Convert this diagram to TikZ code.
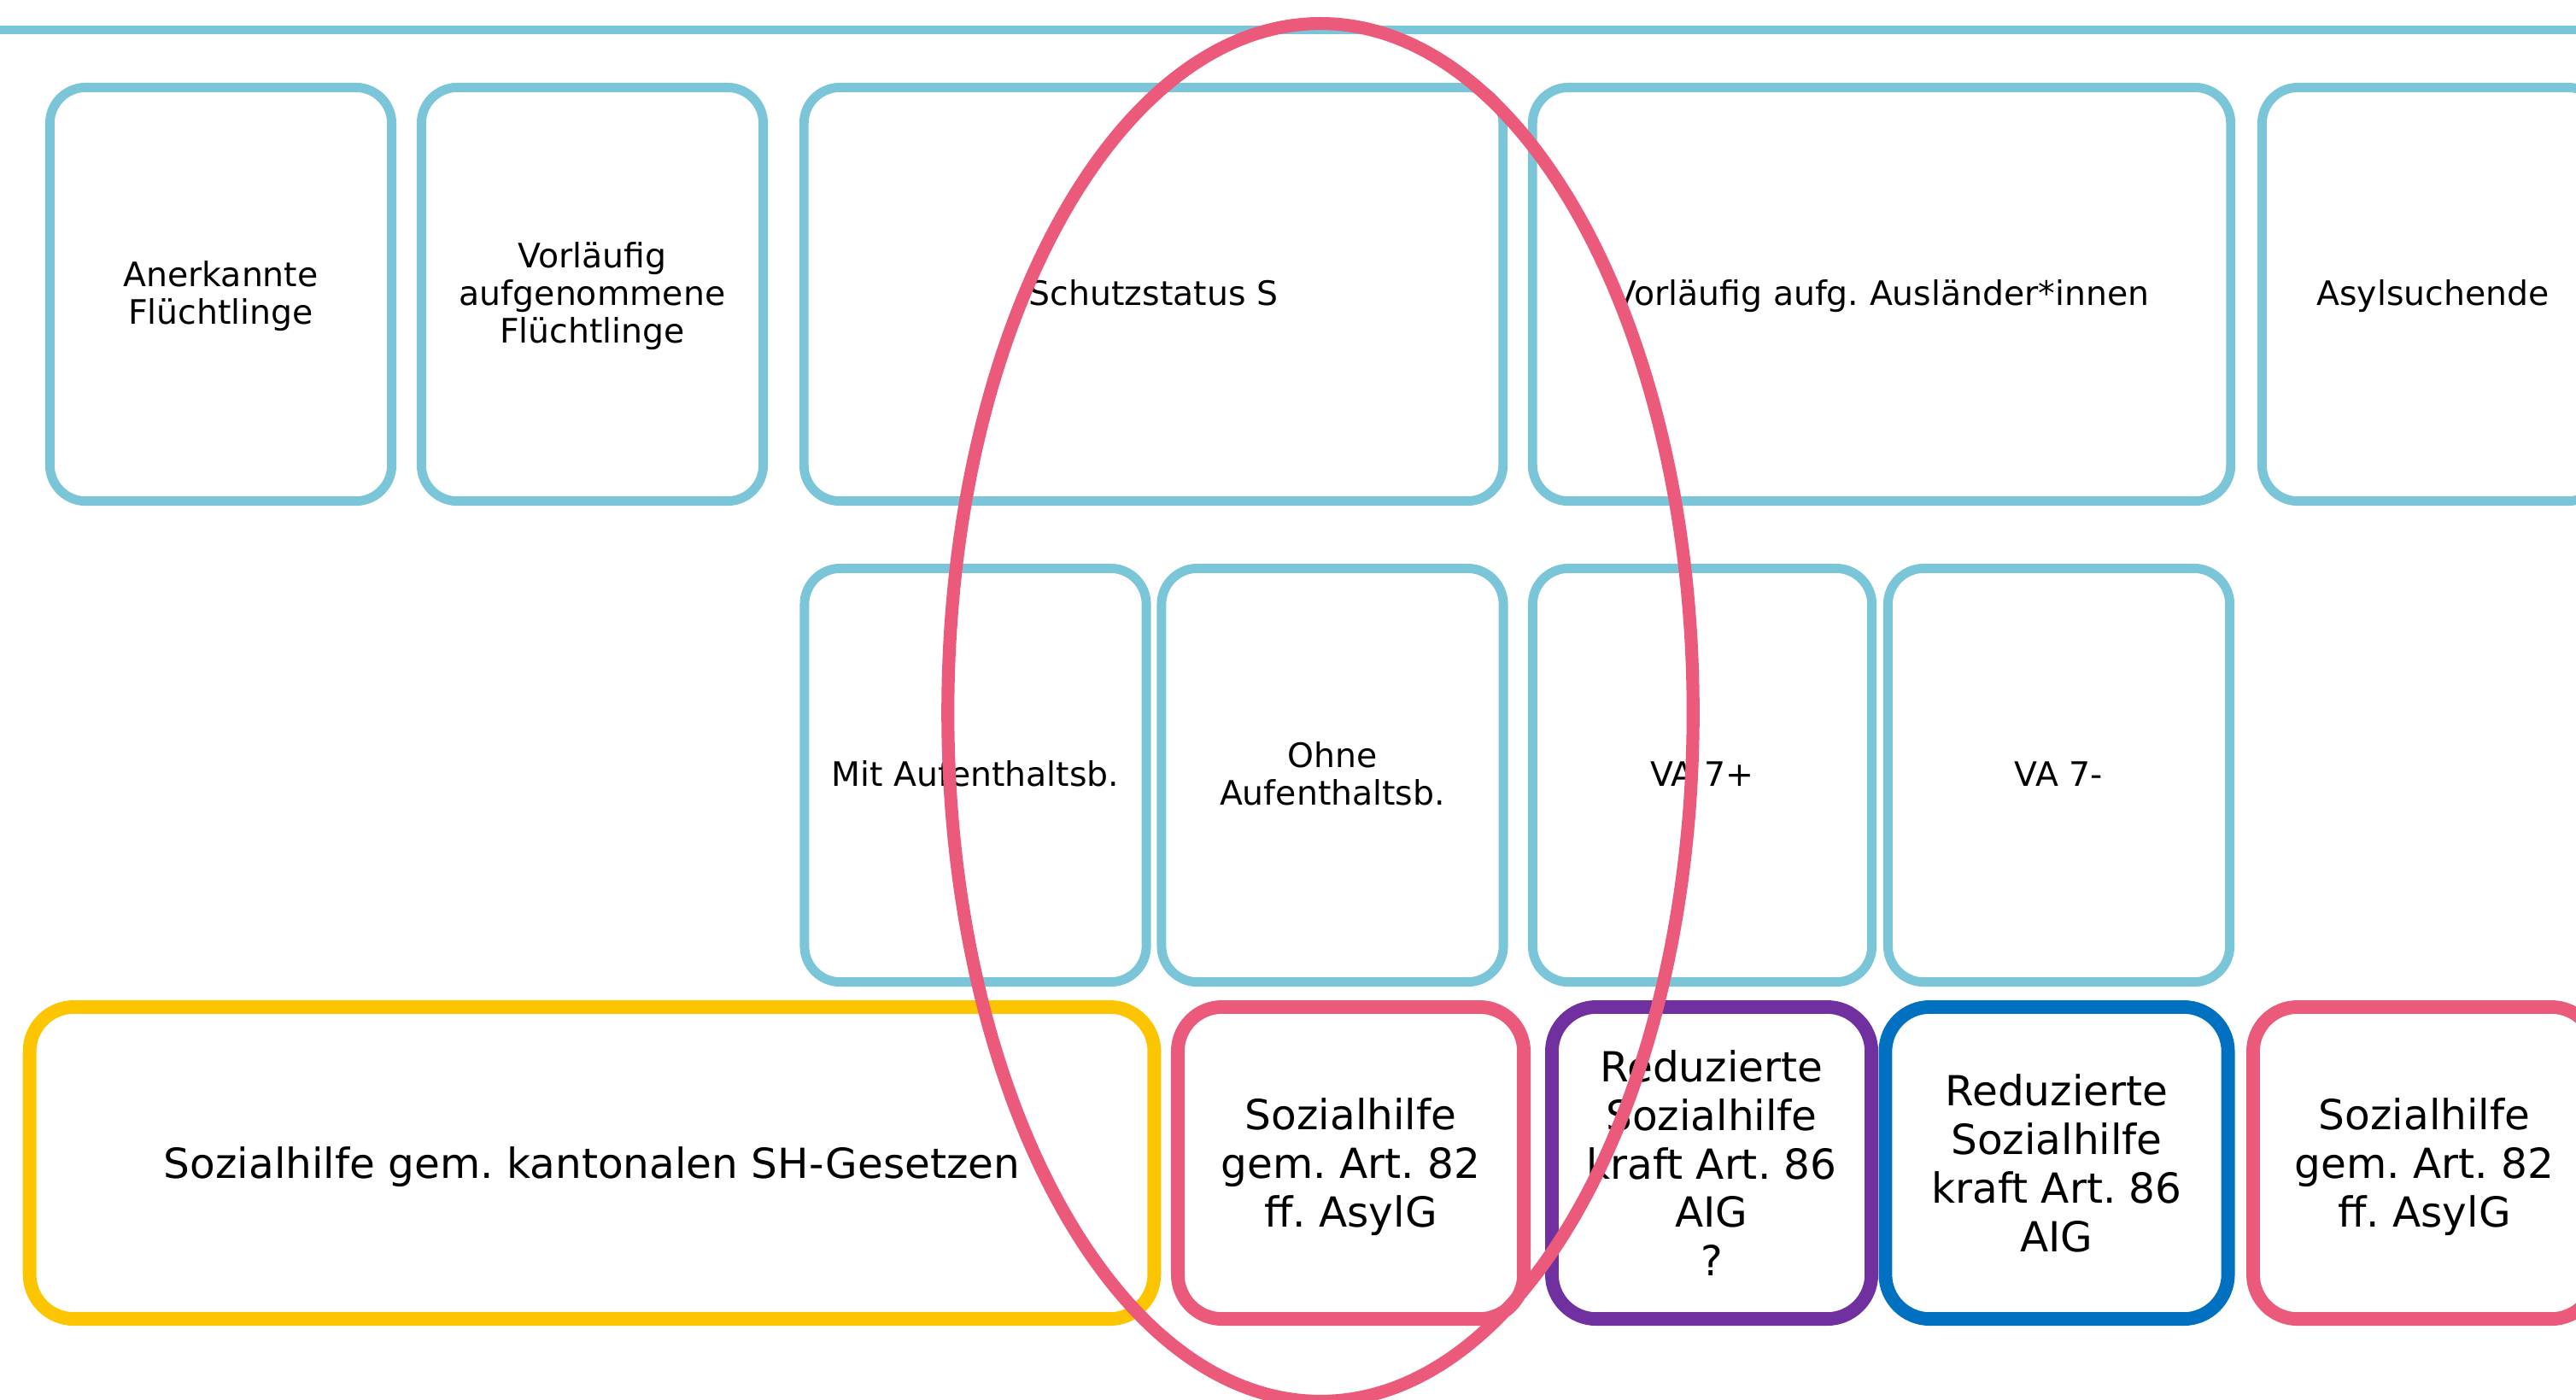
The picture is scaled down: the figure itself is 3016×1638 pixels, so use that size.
\documentclass[tikz,border=0pt]{standalone}
\usepackage{fontspec}
\setmainfont{DejaVu Sans}
\usetikzlibrary{shapes.geometric}
\definecolor{lblue}{HTML}{7BC5D8}
\definecolor{ayellow}{HTML}{FDC400}
\definecolor{apink}{HTML}{EB5A7B}
\definecolor{apurple}{HTML}{7030A0}
\definecolor{ablue}{HTML}{0070C0}
\newcommand\mystrutT{\rule[-2.5pt]{0pt}{12.4pt}}
\newcommand\mystrutB{\rule[-2.85pt]{0pt}{16.2pt}}
\frenchspacing
\tikzset{
  topbox/.style={draw=lblue, line width=3.1pt, rounded corners=0.42cm, minimum height=4.84cm,
    inner sep=0pt, align=center, font=\fontsize{11.2pt}{12.4pt}\selectfont},
  botbox/.style={line width=4.5pt, rounded corners=0.52cm, minimum height=3.65cm,
    inner sep=0pt, align=center, font=\fontsize{13.8pt}{16.2pt}\selectfont},
}
\begin{document}
\lineskiplimit=-20pt
\frenchspacing
\begin{tikzpicture}[x=0.01cm, y=-0.01cm]
\useasboundingbox (0,0) rectangle (3016,1638);
% top line
\coordinate (tl) at (0,35);
\coordinate (tr) at (3016,35);
\draw[lblue, line width=3.1pt] (tl) -- (tr);
% top row
\node[topbox, minimum width=4.00cm] (anerk) at (258.5,344.5) {\mystrutT Anerkannte\\\mystrutT Flüchtlinge};
\node[topbox, minimum width=4.00cm] (vorlf) at (693.5,344.5) {\mystrutT Vorläufig\\\mystrutT aufgenommene\\\mystrutT Flüchtlinge};
\node[topbox, minimum width=8.18cm] (schutz) at (1350.5,344.5) {\mystrutT Schutzstatus S};
\node[topbox, minimum width=8.17cm] (vaaus) at (2203,344.5) {\mystrutT Vorläufig aufg. Ausländer*innen};
\node[topbox, minimum width=4.00cm] (asyl) at (2848.5,344.5) {\mystrutT Asylsuchende};
% middle row
\node[topbox, minimum width=4.00cm] (mit) at (1142,907.5) {\mystrutT Mit Aufenthaltsb.};
\node[topbox, minimum width=4.00cm] (ohne) at (1560,907.5) {\mystrutT Ohne\\\mystrutT Aufenthaltsb.};
\node[topbox, minimum width=3.97cm] (vap) at (1993,907.5) {\mystrutT VA 7+};
\node[topbox, minimum width=4.00cm] (vam) at (2410.5,907.5) {\mystrutT VA 7-};
% bottom row
\node[botbox, draw=ayellow, minimum width=13.16cm] (kant) at (693,1361.5) {\mystrutB Sozialhilfe gem. kantonalen SH-Gesetzen};
\node[botbox, draw=apink, minimum width=4.05cm] (sh1) at (1581.5,1361.5) {\mystrutB Sozialhilfe\\\mystrutB gem. Art. 82\\\mystrutB ff. AsylG};
\node[botbox, draw=apurple, minimum width=3.74cm] (red1) at (2004,1361.5) {\mystrutB Reduzierte\\\mystrutB Sozialhilfe\\\mystrutB kraft Art. 86\\\mystrutB AIG\\\mystrutB ?};
\node[botbox, draw=ablue, minimum width=4.01cm] (red2) at (2408,1361.5) {\mystrutB Reduzierte\\\mystrutB Sozialhilfe\\\mystrutB kraft Art. 86\\\mystrutB AIG};
\node[botbox, draw=apink, minimum width=4.01cm] (sh2) at (2838.5,1361.5) {\mystrutB Sozialhilfe\\\mystrutB gem. Art. 82\\\mystrutB ff. AsylG};
% ellipse highlight
\node[ellipse, draw=apink, line width=4.3pt, inner sep=0pt, minimum width=8.72cm, minimum height=16.12cm] (ring) at (1546,834) {};
\end{tikzpicture}
\end{document}
